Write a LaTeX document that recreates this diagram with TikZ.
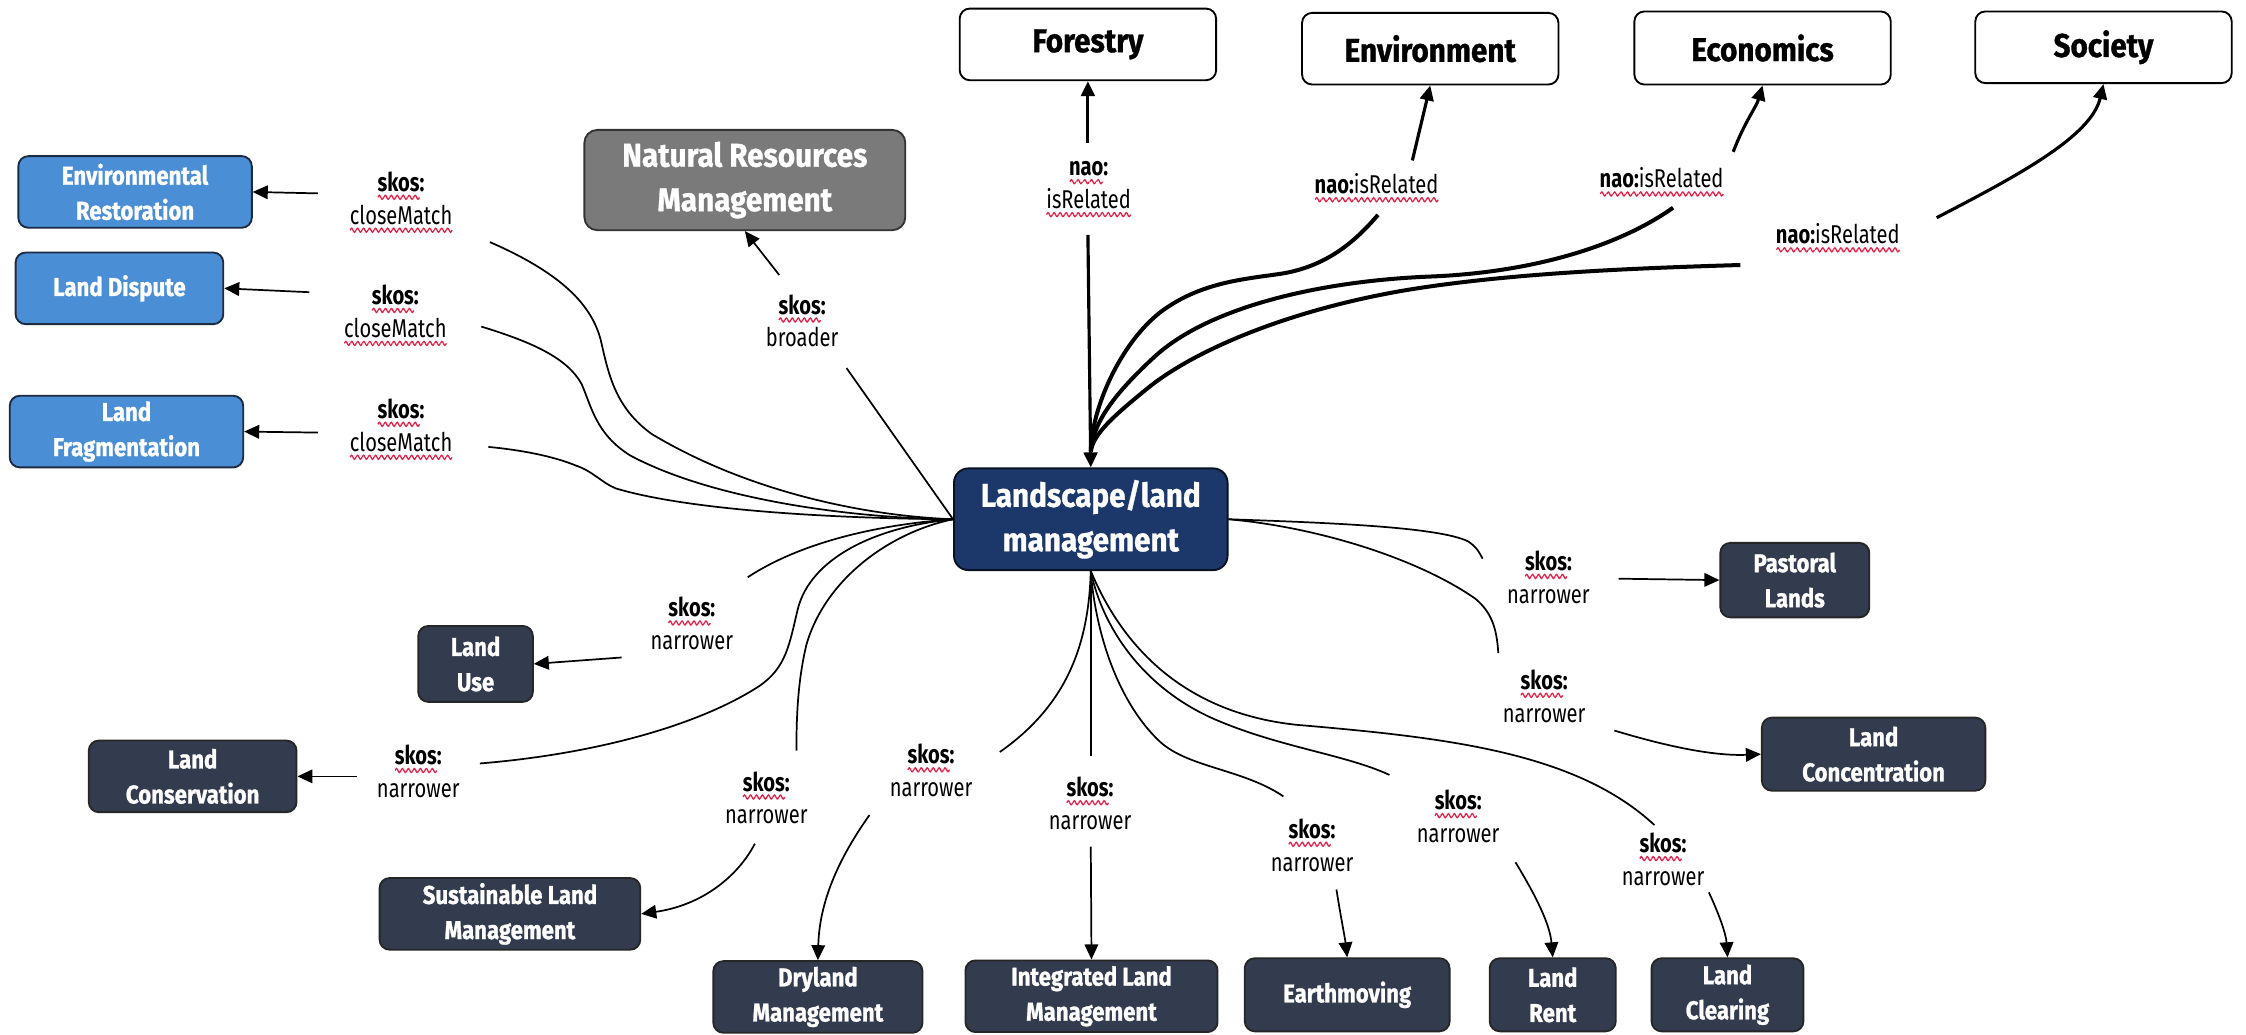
\documentclass[tikz,border=0pt]{standalone}
\usepackage{fontspec}
\setmainfont{Fira Sans}
\newfontfamily\labfont{Fira Sans}[FakeStretch=0.78]
\newfontfamily\boxfont{Fira Sans}[FakeStretch=0.86, BoldFeatures={FakeBold=1}]
\newfontfamily\bigfont{Fira Sans}[FakeStretch=0.9, BoldFeatures={FakeBold=1}]
\usetikzlibrary{arrows.meta}
\definecolor{wavered}{RGB}{228,32,72}
\definecolor{boxblue}{RGB}{74,142,214}
\definecolor{bordblue}{RGB}{28,42,66}
\definecolor{boxdark}{RGB}{50,60,78}
\definecolor{centerblue}{RGB}{28,56,106}
\definecolor{boxgray}{RGB}{122,122,122}
\newsavebox\wavebox
\AtBeginDocument{\sbox\wavebox{\begin{pgfpicture}%
  \pgfsetlinewidth{0.9pt}\pgfsetstrokecolor{wavered}%
  \pgfpathmoveto{\pgfpoint{0pt}{0pt}}%
  \pgfpathsine{\pgfpoint{1pt}{1.4pt}}\pgfpathcosine{\pgfpoint{1pt}{-1.4pt}}%
  \pgfpathsine{\pgfpoint{1pt}{-1.4pt}}\pgfpathcosine{\pgfpoint{1pt}{1.4pt}}%
  \pgfusepath{stroke}%
  \pgfresetboundingbox
  \pgfpathrectangle{\pgfpoint{0pt}{-1.4pt}}{\pgfpoint{4pt}{2.8pt}}\pgfusepath{use as bounding box}%
  \end{pgfpicture}}}
\newcommand\rw[1]{\leavevmode\setbox0\hbox{#1}\rlap{\lower5.6pt\hbox to\wd0{\xleaders\copy\wavebox\hfill}}\box0}
\tikzset{
  box/.style={draw, rounded corners=7pt, line width=1.3pt, align=center, inner sep=2pt, text=white, font=\boxfont\bfseries\fontsize{18}{24.5}\selectfont},
  bluebox/.style={box, fill=boxblue, draw=bordblue},
  darkbox/.style={box, fill=boxdark, draw=black!85},
  topbox/.style={box, fill=white, draw=black, text=black, font=\bigfont\bfseries\fontsize{23}{31}\selectfont},
  graybox/.style={box, fill=boxgray, draw=black!80, rounded corners=9pt, font=\bigfont\bfseries\fontsize{23}{31}\selectfont},
  cbox/.style={box, fill=centerblue, draw=black!70!centerblue, rounded corners=10pt, font=\bigfont\bfseries\fontsize{23}{31}\selectfont},
  lab/.style={align=center, inner sep=1pt, font=\labfont\fontsize{18}{23}\selectfont},
  lnthin/.style={line width=1.2pt},
  lnmed/.style={line width=2.2pt},
  lnthick/.style={line width=2.8pt},
  arr/.style={-{Triangle[length=10.5pt,width=9.5pt]}}
}
\begin{document}
\begin{tikzpicture}[x=1pt,y=-1pt]
\fill[white] (0,0) rectangle (1568,722);
\useasboundingbox (0,0) rectangle (1568,722);

% ---------- boxes ----------
\node[cbox, minimum width=191pt, minimum height=71pt] (C) at (761.5,362.5) {Landscape/land\\management};

\node[topbox, minimum width=179pt, minimum height=50pt] (For) at (759.5,31) {Forestry};
\node[topbox, minimum width=179pt, minimum height=50pt] (Env) at (998.5,34) {Environment};
\node[topbox, minimum width=179pt, minimum height=51pt] (Eco) at (1230.5,33.5) {Economics};
\node[topbox, minimum width=179pt, minimum height=50pt] (Soc) at (1468.5,33) {Society};

\node[graybox, minimum width=224pt, minimum height=70pt] (NRM) at (520,125.7) {Natural Resources\\Management};

\node[bluebox, minimum width=163pt, minimum height=50pt] (ER) at (94.3,134) {Environmental\\Restoration};
\node[bluebox, minimum width=145pt, minimum height=50pt] (LD) at (83.4,201.3) {Land Dispute};
\node[bluebox, minimum width=163pt, minimum height=50pt] (LF) at (88.3,301.3) {Land\\Fragmentation};

\node[darkbox, minimum width=80pt, minimum height=53pt] (LU) at (332,463.5) {Land\\Use};
\node[darkbox, minimum width=145pt, minimum height=50pt] (LC) at (134.5,542) {Land\\Conservation};
\node[darkbox, minimum width=182pt, minimum height=50pt] (SLM) at (356,638) {Sustainable Land\\Management};
\node[darkbox, minimum width=146pt, minimum height=50pt] (DM) at (571,696) {Dryland\\Management};
\node[darkbox, minimum width=176pt, minimum height=50pt] (ILM) at (762,695.5) {Integrated Land\\Management};
\node[darkbox, minimum width=143pt, minimum height=51pt] (EM) at (940.5,694.5) {Earthmoving};
\node[darkbox, minimum width=88pt, minimum height=51pt] (LR) at (1084,694.5) {Land\\Rent};
\node[darkbox, minimum width=106pt, minimum height=51pt] (LCl) at (1206,694.5) {Land\\Clearing};
\node[darkbox, minimum width=104pt, minimum height=52pt] (PL) at (1253,405) {Pastoral\\Lands};
\node[darkbox, minimum width=156pt, minimum height=51pt] (LCo) at (1308,526.5) {Land\\Concentration};

% ---------- labels ----------
\node[lab] (l1) at (280,141) {{\bfseries\rw{skos}:}\\\rw{closeMatch}};
\node[lab] (l2) at (276,220) {{\bfseries\rw{skos}:}\\\rw{closeMatch}};
\node[lab] (l3) at (280,299.5) {{\bfseries\rw{skos}:}\\\rw{closeMatch}};
\node[lab] (lb) at (560,224) {{\bfseries\rw{skos}:}\\broader};
\node[lab] (lfo) at (760,132) {{\bfseries\rw{nao}:}\\\rw{isRelated}};
\node[lab] (len) at (961,131) {{\bfseries\rw{nao:}}\rw{isRelated}};
\node[lab] (lec) at (1160,127) {{\bfseries\rw{nao:}}\rw{isRelated}};
\node[lab] (lso) at (1283,166) {{\bfseries\rw{nao:}}\rw{isRelated}};
\node[lab] (nlu) at (483,435.5) {{\bfseries\rw{skos}:}\\narrower};
\node[lab] (nlc) at (292,538.5) {{\bfseries\rw{skos}:}\\narrower};
\node[lab] (nsl) at (535,557) {{\bfseries\rw{skos}:}\\narrower};
\node[lab] (ndm) at (650,538) {{\bfseries\rw{skos}:}\\narrower};
\node[lab] (nil) at (761,561) {{\bfseries\rw{skos}:}\\narrower};
\node[lab] (nem) at (916,590) {{\bfseries\rw{skos}:}\\narrower};
\node[lab] (nlr) at (1018,570) {{\bfseries\rw{skos}:}\\narrower};
\node[lab] (ncl) at (1161,600) {{\bfseries\rw{skos}:}\\narrower};
\node[lab] (npl) at (1081,403) {{\bfseries\rw{skos}:}\\narrower};
\node[lab] (nco) at (1078,486) {{\bfseries\rw{skos}:}\\narrower};

% ---------- connector ends ----------
\coordinate (tip) at ([yshift=11pt]C.north);
\coordinate (l1e) at (342,169);  \coordinate (l1a) at (222,135);
\coordinate (l2e) at (336,228);  \coordinate (l2a) at (216,204);
\coordinate (l3e) at (341,312);  \coordinate (l3a) at (222,302);
\coordinate (bre) at (591,257);  \coordinate (bra) at (544,192);
\coordinate (fa) at (759.5,100); \coordinate (fb) at (759.5,164);
\coordinate (ee) at (962,150);   \coordinate (ea) at (986,112);
\coordinate (ce) at (1168,145);  \coordinate (ca) at (1210,106);
\coordinate (se) at (1215,185);  \coordinate (sa) at (1352,152);
\coordinate (lue) at (522,403);  \coordinate (lua) at (434,459);
\coordinate (lce) at (335,533);  \coordinate (lca) at (249,542);
\coordinate (sle) at (556,524);  \coordinate (sla) at (527,589);
\coordinate (dle) at (698,525);  \coordinate (dla) at (607,569);
\coordinate (ile) at (761.5,528);\coordinate (ila) at (761.5,591);
\coordinate (eme) at (896,556);  \coordinate (ema) at (933,621);
\coordinate (lre) at (970,541);  \coordinate (lra) at (1058,602);
\coordinate (lcle) at (1155,576);\coordinate (lcla) at (1193,623);
\coordinate (ple) at (1035,390); \coordinate (pla) at (1130,404);
\coordinate (lcoe) at (1046,456);\coordinate (lcoa) at (1127,510);

% ---------- closeMatch ----------
\draw[lnthin] (C.west) .. controls (600,360) and (520,342) .. (455,303) .. controls (430,285) and (425,262) .. (420,240) .. controls (414,212) and (390,190) .. (l1e);
\draw[lnthin,arr] (l1a) -- (ER.east);
\draw[lnthin] (C.west) .. controls (600,362) and (500,350) .. (440,318) .. controls (416,303) and (413,284) .. (406,268) .. controls (396,250) and (372,239) .. (l2e);
\draw[lnthin,arr] (l2a) -- (LD.east);
\draw[lnthin] (C.west) .. controls (580,362) and (480,356) .. (430,341) .. controls (420,337) and (414,329) .. (402,325) .. controls (385,318) and (362,314) .. (l3e);
\draw[lnthin,arr] (l3a) -- (LF.east);

% ---------- broader ----------
\draw[lnthin] (C.west) -- (bre);
\draw[lnthin,arr] (bra) -- (NRM.south);

% ---------- nao:isRelated ----------
\draw[lnmed,arr] (fa) -- (For.south);
\draw[lnthick] (ee) .. controls (945,170) and (925,186) .. (895,191) .. controls (868,195) and (838,197) .. (810,218) .. controls (782,240) and (762,285) .. (tip);
\draw[lnmed,arr] (ea) -- (Env.south);
\draw[lnthick] (ce) .. controls (1130,172) and (1070,190) .. (1000,193) .. controls (920,196) and (842,215) .. (805,250) .. controls (778,275) and (763,295) .. (tip);
\draw[lnmed,arr] (ca) .. controls (1218,85) and (1226,75) .. (Eco.south);
\draw[lnthick] (se) .. controls (1150,187) and (1060,190) .. (985,202) .. controls (905,215) and (835,243) .. (800,272) .. controls (778,290) and (763,303) .. (tip);
\draw[lnmed,arr] (sa) .. controls (1410,122) and (1460,95) .. (Soc.south);
\draw[lnmed,arr] (fb) -- (C.north);

% ---------- narrower ----------
\draw[lnthin] (C.west) .. controls (615,366) and (560,378) .. (lue);
\draw[lnthin,arr] (lua) -- (LU.east);
\draw[lnthin] (C.west) .. controls (610,368) and (566,390) .. (557,425) .. controls (551,450) and (549,466) .. (530,479) .. controls (490,505) and (420,526) .. (lce);
\draw[lnthin,arr] (lca) -- (LC.east);
\draw[lnthin] (C.west) .. controls (620,372) and (576,405) .. (563,450) .. controls (557,475) and (556,500) .. (sle);
\draw[lnthin,arr] (sla) .. controls (515,612) and (490,632) .. (SLM.east);
\draw[lnthin] (C.south) .. controls (760,450) and (745,492) .. (dle);
\draw[lnthin,arr] (dla) .. controls (585,600) and (572,630) .. (DM.north);
\draw[lnthin] (C.south) -- (ile);
\draw[lnthin,arr] (ila) -- (ILM.north);
\draw[lnthin] (C.south) .. controls (765,445) and (782,492) .. (810,518) .. controls (830,536) and (868,537) .. (eme);
\draw[lnthin,arr] (ema) .. controls (936,640) and (939,655) .. (EM.north);
\draw[lnthin] (C.south) .. controls (770,440) and (800,482) .. (850,503) .. controls (895,522) and (940,527) .. (lre);
\draw[lnthin,arr] (lra) .. controls (1072,625) and (1082,645) .. (LR.north);
\draw[lnthin] (C.south) .. controls (785,455) and (830,498) .. (905,506) .. controls (1010,515) and (1100,525) .. (lcle);
\draw[lnthin,arr] (lcla) .. controls (1200,638) and (1205,652) .. (LCl.north);
\draw[lnthin] (C.east) .. controls (930,365) and (1005,368) .. (1025,378) .. controls (1031,382) and (1033,386) .. (ple);
\draw[lnthin,arr] (pla) -- (PL.west);
\draw[lnthin] (C.east) .. controls (920,368) and (990,390) .. (1030,418) .. controls (1042,428) and (1045,440) .. (lcoe);
\draw[lnthin,arr] (lcoa) .. controls (1160,520) and (1195,528) .. (LCo.west);
\end{tikzpicture}
\end{document}
